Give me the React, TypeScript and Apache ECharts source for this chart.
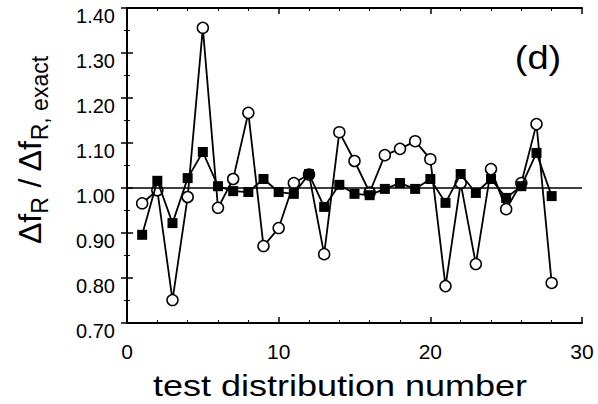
import React, { useEffect, useRef } from "react";
import * as echarts from "echarts";

const testNumbers = [1, 2, 3, 4, 5, 6, 7, 8, 9, 10, 11, 12, 13, 14, 15, 16, 17, 18, 19, 20, 21, 22, 23, 24, 25, 26, 27, 28];
const openCircleValues = [0.966, 0.995, 0.751, 0.98, 1.356, 0.956, 1.02, 1.167, 0.871, 0.911, 1.011, 1.03, 0.853, 1.124, 1.06, 0.99, 1.073, 1.087, 1.104, 1.064, 0.782, 1.011, 0.831, 1.042, 0.953, 1.011, 1.142, 0.789];
const filledSquareValues = [0.896, 1.016, 0.922, 1.022, 1.08, 1.004, 0.993, 0.991, 1.02, 0.991, 0.987, 1.031, 0.958, 1.007, 0.987, 0.984, 0.998, 1.011, 0.998, 1.02, 0.967, 1.031, 0.989, 1.02, 0.978, 1.004, 1.078, 0.982];
const referenceValue = 1.0;
const xTicks = [0, 10, 20, 30];
const yTicks = [0.7, 0.8, 0.9, 1.0, 1.1, 1.2, 1.3, 1.4];

const FONT = "Liberation Sans, Arial, Helvetica, sans-serif";

export default function App() {
  const ref = useRef<HTMLDivElement>(null);
  useEffect(() => {
    if (!ref.current) return;
    const chart = echarts.init(ref.current, undefined, { renderer: "svg" });
    const axisLine = { show: true, lineStyle: { color: "#000", width: 2 } };
    const xBase = {
      type: "value",
      min: xTicks[0],
      max: xTicks[xTicks.length - 1],
      interval: xTicks[1] - xTicks[0],
      axisLine,
      axisTick: { show: true, inside: true, length: 6, lineStyle: { color: "#000", width: 1.5 } },
      minorTick: { show: true, splitNumber: 5, length: 3, lineStyle: { color: "#000", width: 1 } },
      splitLine: { show: false },
    };
    const yBase = {
      type: "value",
      min: yTicks[0],
      max: yTicks[yTicks.length - 1],
      interval: 0.1,
      axisLine,
      axisTick: { show: true, inside: true, length: 6, lineStyle: { color: "#000", width: 1.5 } },
      minorTick: { show: true, splitNumber: 2, length: 3, lineStyle: { color: "#000", width: 1 } },
      splitLine: { show: false },
    };
    chart.setOption({
      animation: false,
      backgroundColor: "#fff",
      grid: { left: 127, right: 16, top: 8, bottom: 81, containLabel: false },
      xAxis: [
        {
          ...xBase,
          position: "bottom",
          axisLabel: { show: true, color: "#000", fontSize: 21, fontFamily: FONT, margin: 18 },
        },
        { ...xBase, position: "top", axisLabel: { show: false } },
      ],
      yAxis: [
        {
          ...yBase,
          position: "left",
          axisLabel: {
            show: true,
            color: "#000",
            fontSize: 20,
            fontFamily: FONT,
            margin: 12,
            verticalAlign: "top",
            lineHeight: 16,
            formatter: (v: number) => v.toFixed(2),
          },
        },
        { ...yBase, position: "right", axisLabel: { show: false } },
      ],
      series: [
        {
          type: "line",
          xAxisIndex: 0,
          yAxisIndex: 0,
          data: testNumbers.map((n, i) => [n, openCircleValues[i]]),
          symbol: "circle",
          symbolSize: 11,
          showAllSymbol: true,
          lineStyle: { color: "#000", width: 1.8 },
          itemStyle: { color: "#fff", borderColor: "#000", borderWidth: 1.5 },
          z: 3,
          markLine: {
            silent: true,
            symbol: ["none", "none"],
            label: { show: false },
            lineStyle: { color: "#000", width: 1.6, type: "solid" },
            data: [{ yAxis: referenceValue }],
          },
        },
        {
          type: "line",
          xAxisIndex: 0,
          yAxisIndex: 0,
          data: testNumbers.map((n, i) => [n, filledSquareValues[i]]),
          symbol: "rect",
          symbolSize: 10,
          showAllSymbol: true,
          lineStyle: { color: "#000", width: 1.8 },
          itemStyle: { color: "#000", borderColor: "#000", borderWidth: 0 },
          z: 4,
        },
      ],
      graphic: [
        {
          type: "text",
          x: 153,
          y: 386,
          scaleX: 1.2,
          style: {
            text: "test distribution number",
            fontSize: 30,
            fontFamily: FONT,
            fill: "#000",
            align: "left",
            verticalAlign: "middle",
          },
        },
        {
          type: "text",
          x: 538,
          y: 57,
          scaleX: 1.12,
          style: {
            text: "(d)",
            fontSize: 34,
            fontFamily: FONT,
            fill: "#000",
            align: "center",
            verticalAlign: "middle",
          },
        },
        {
          type: "text",
          x: 30,
          y: 150,
          rotation: Math.PI / 2,
          style: {
            text: "{m|Δf}{s|R}{m| / Δf}{s|R, exact}",
            align: "center",
            verticalAlign: "middle",
            fill: "#000",
            rich: {
              m: { fontSize: 32, lineHeight: 42, fontFamily: FONT, fill: "#000" },
              s: { fontSize: 23, lineHeight: 22, fontFamily: FONT, fill: "#000", verticalAlign: "bottom" },
            },
          },
        },
      ],
    });
    return () => chart.dispose();
  }, []);
  return <div ref={ref} style={{ position: "fixed", left: 0, top: 0, width: 598, height: 404 }} />;
}
